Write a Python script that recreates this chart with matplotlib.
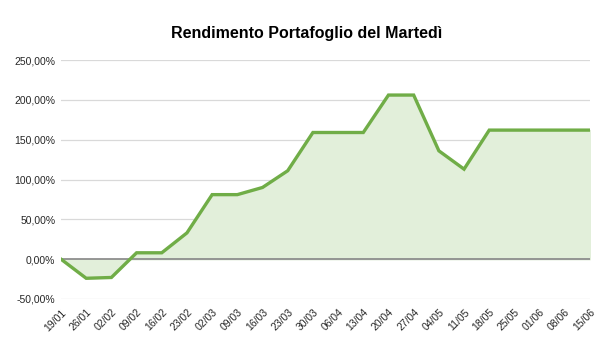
import numpy as np
import matplotlib.pyplot as plt
from matplotlib.ticker import FuncFormatter

dates = ['19/01', '26/01', '02/02', '09/02', '16/02', '23/02', '02/03', '09/03',
         '16/03', '23/03', '30/03', '06/04', '13/04', '20/04', '27/04', '04/05',
         '11/05', '18/05', '25/05', '01/06', '08/06', '15/06']
rendimento = [0, -24, -23, 8, 8, 33, 81, 81, 90, 111, 159, 159, 159, 206, 206,
              136, 113, 162, 162, 162, 162, 162]

plt.rcParams['font.family'] = ['Liberation Sans', 'DejaVu Sans']

fig = plt.figure(figsize=(6.13, 3.53), dpi=100)
ax = fig.add_axes([0.0995, 0.153, 0.863, 0.677])

x = np.arange(len(dates))
y = np.array(rendimento)

ax.fill_between(x, y, 0, color='#e2efda', zorder=1)
ax.plot(x, y, color='#70ad47', lw=2.4, zorder=3, solid_joinstyle='miter')
ax.axhline(0, color='#868686', lw=1.2, zorder=2)

ax.set_xlim(0, len(dates) - 1)
ax.set_ylim(-50, 250)
ax.set_yticks(np.arange(-50, 251, 50))
ax.yaxis.set_major_formatter(FuncFormatter(lambda v, p: f'{v:.2f}%'.replace('.', ',')))
ax.grid(axis='y', color='#d9d9d9', lw=0.9, zorder=0)
ax.set_axisbelow(True)

ax.set_xticks(x)
ax.set_xticklabels(dates, rotation=45, ha='right', rotation_mode='anchor')
ax.tick_params(axis='both', length=0, labelsize=7.5, colors='#262626', pad=4)
ax.tick_params(axis='x', pad=6)
for s in ax.spines.values():
    s.set_visible(False)

fig.suptitle('Rendimento Portafoglio del Martedì', x=0.5, y=0.925,
             fontsize=11.5, fontweight='bold', color='#000000')

fig.savefig('out.png', dpi=100)
